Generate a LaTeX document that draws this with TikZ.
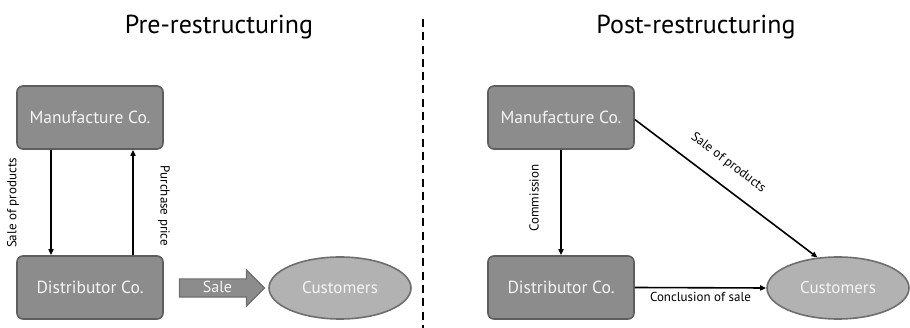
\documentclass[tikz,border=0pt]{standalone}
\usepackage{fontspec}
\setmainfont{PT Sans}
\usepackage{tikz}
\usetikzlibrary{positioning,arrows.meta,shapes.geometric,shapes.arrows}
\definecolor{cBox}{HTML}{8C8C8C}
\definecolor{cBoxLine}{HTML}{5E5E5E}
\definecolor{cEll}{HTML}{B2B2B2}
\definecolor{cEllLine}{HTML}{6E6E6E}
\definecolor{cTxt}{HTML}{F4F4F4}

\begin{document}
\begin{tikzpicture}[
  x=1pt, y=-1pt,
  title/.style={font=\fontsize{26}{30}\selectfont, inner sep=0pt},
  co/.style   ={draw=cBoxLine, fill=cBox, line width=1.6pt, rounded corners=6pt,
                minimum width=146pt, minimum height=63pt, text=cTxt,
                font=\fontsize{17.5}{20}\selectfont},
  cust/.style ={ellipse, draw=cEllLine, fill=cEll, line width=1.6pt, inner sep=0pt,
                minimum width=142pt, minimum height=62pt, text=cTxt,
                font=\fontsize{17}{20}\selectfont},
  blockar/.style={single arrow, draw=cEllLine, fill=cBox, line width=1.2pt,
                single arrow head extend=9pt, single arrow tip angle=90,
                minimum height=85pt, inner xsep=4pt, inner ysep=3pt,
                text height=10pt, text depth=1pt, text=cTxt,
                font=\fontsize{16}{19}\selectfont},
  lbl/.style  ={font=\fontsize{13}{15}\selectfont, inner sep=1pt},
  ar/.style   ={-{Triangle[length=6pt,width=5pt]}, line width=1.6pt, draw=black},
  divider/.style={draw=black, line width=2.4pt, dash pattern=on 8pt off 5.3pt},
]
\useasboundingbox (0,0) rectangle (910,328);

% titles
\node[title] (tPre)  at (219,27) {Pre-restructuring};
\node[title] (tPost) at (696,27) {Post-restructuring};

% divider
\coordinate (divTop) at (423,19);
\coordinate (divBot) at (423,328);
\draw[divider] (divTop) -- (divBot);

% pre-restructuring
\node[co]   (m1) at (90,117.5)  {Manufacture Co.};
\node[co]   (d1) at (90,287.5)  {Distributor Co.};
\node[cust] (c1) at (340,288)   {Customers};
\node[blockar] (sale) at (217.5,288) {Sale};

\draw[ar] ([xshift=-39pt]m1.south) -- ([xshift=-39pt]d1.north);
\draw[ar] ([xshift=43pt]d1.north) -- ([xshift=43pt]m1.south);
\node[lbl, rotate=90]  (lSale)  at (13,203)  {Sale of products};
\node[lbl, rotate=-90] (lPrice) at (164,206) {Purchase price};

% post-restructuring
\node[co]   (m2) at (561,117.5) {Manufacture Co.};
\node[co]   (d2) at (561,287.5) {Distributor Co.};
\node[cust] (c2) at (838,288)   {Customers};

\draw[ar] (m2) -- (d2);
\node[lbl, rotate=90] (lCom) at (534,198) {Commission};
\draw[ar] ([yshift=-2pt]m2.east) -- (c2.124)
  node[lbl, pos=0.44, sloped, above=14pt] (lProd) {Sale of products};
\draw[ar] (d2.east) -- (c2.west)
  node[lbl, midway, below=3pt] (lConc) {Conclusion of sale};
\end{tikzpicture}
\end{document}
